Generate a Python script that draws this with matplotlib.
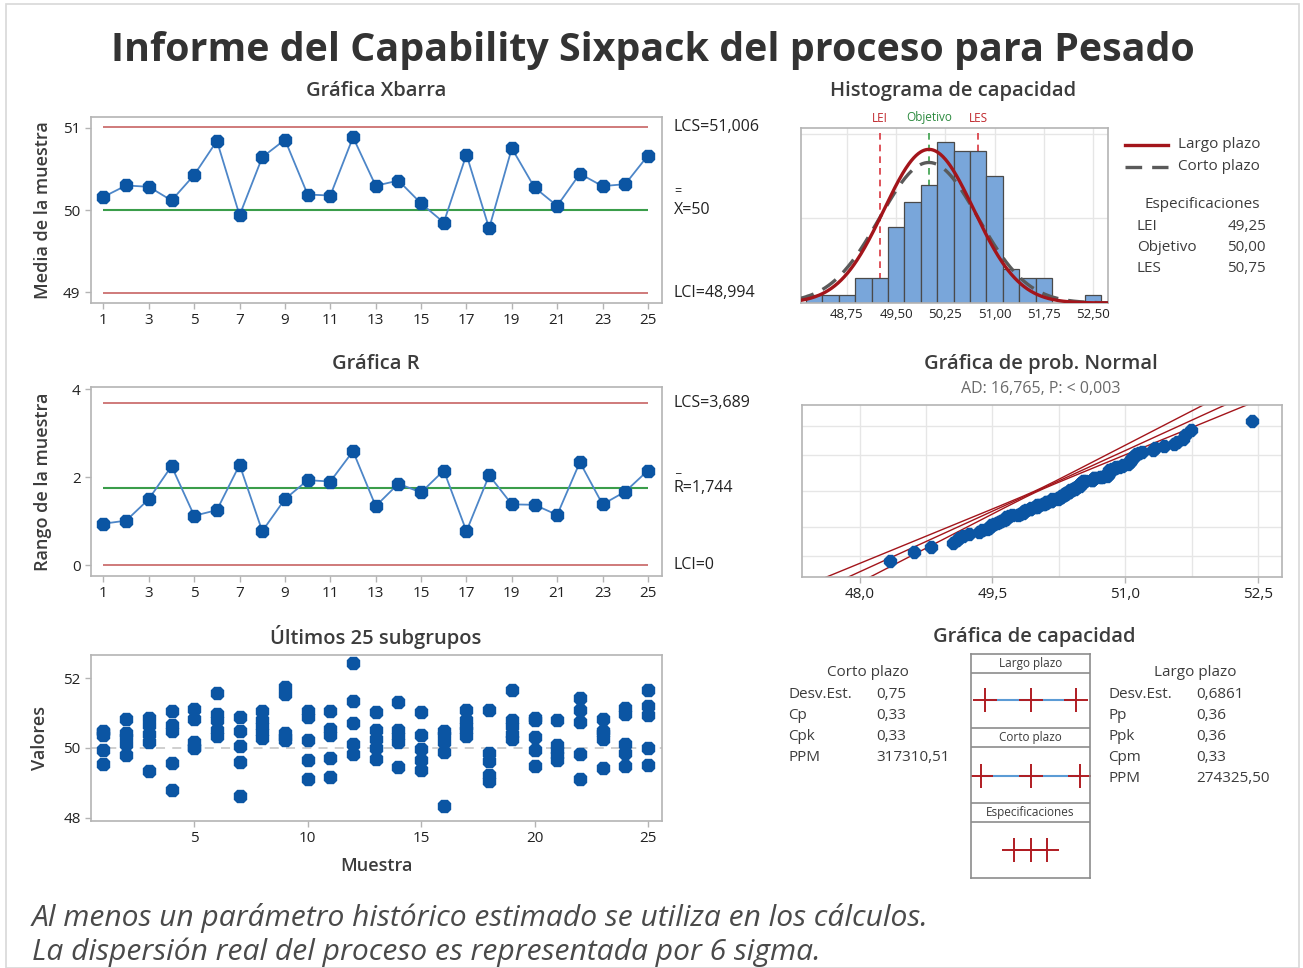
import numpy as np
import matplotlib
matplotlib.use("Agg")
import matplotlib.pyplot as plt
from matplotlib.lines import Line2D
from matplotlib.patches import Rectangle
from statistics import NormalDist

plt.rcParams['font.family'] = ['Open Sans', 'Noto Sans', 'DejaVu Sans']

# pesos de los 25 subgrupos (n = 5)
subgroups = [
    [50.49, 50.46, 50.37, 49.93, 49.55],
    [50.82, 50.43, 50.31, 50.12, 49.81],
    [50.85, 50.65, 50.40, 50.16, 49.35],
    [51.06, 50.65, 50.49, 49.57, 48.81],
    [51.12, 50.82, 50.16, 50.03, 50.00],
    [51.58, 50.96, 50.81, 50.52, 50.33],
    [50.90, 50.49, 50.07, 49.60, 48.62],
    [51.05, 50.80, 50.63, 50.45, 50.28],
    [51.74, 51.55, 50.43, 50.31, 50.24],
    [51.05, 50.88, 50.24, 49.65, 49.12],
    [51.07, 50.54, 50.38, 49.72, 49.17],
    [52.43, 51.34, 50.71, 50.10, 49.84],
    [51.03, 50.50, 50.25, 50.00, 49.69],
    [51.31, 50.52, 50.33, 50.17, 49.46],
    [51.03, 50.36, 49.98, 49.65, 49.38],
    [50.49, 50.36, 50.17, 49.88, 48.34],
    [51.10, 50.80, 50.64, 50.50, 50.33],
    [51.10, 49.86, 49.63, 49.24, 49.06],
    [51.65, 50.79, 50.63, 50.41, 50.27],
    [50.85, 50.80, 50.31, 49.93, 49.48],
    [50.79, 50.08, 49.94, 49.79, 49.65],
    [51.44, 51.08, 50.74, 49.84, 49.10],
    [50.82, 50.49, 50.43, 50.27, 49.44],
    [51.15, 50.98, 50.10, 49.86, 49.48],
    [51.67, 51.19, 50.93, 50.00, 49.52],
]

# parametros historicos y limites
mu = 50.0
sd_within = 0.75
sd_overall = 0.6861
lei, target, les = 49.25, 50.00, 50.75
xbar_lcs, xbar_cl, xbar_lci = 51.006, 50.0, 48.994
r_lcs, r_cl, r_lci = 3.689, 1.744, 0.0

# (texto, simbolo sobre la primera letra)
xbar_labels = [('LCS=51,006', ''), ('X=50', '='), ('LCI=48,994', '')]
r_labels = [('LCS=3,689', ''), ('R=1,744', '_'), ('LCI=0', '')]

short_term = [('Desv.Est.', '0,75'), ('Cp', '0,33'), ('Cpk', '0,33'), ('PPM', '317310,51')]
long_term = [('Desv.Est.', '0,6861'), ('Pp', '0,36'), ('Ppk', '0,36'), ('Cpm', '0,33'), ('PPM', '274325,50')]
spec_rows = [('LEI', '49,25'), ('Objetivo', '50,00'), ('LES', '50,75')]
ad_text = 'AD: 16,765, P: < 0,003'

hist_edges = np.arange(48.125, 52.75, 0.25)
prob_pct = [1, 10, 50, 90, 99]

data = np.array(subgroups)
samples = np.arange(1, len(subgroups) + 1)
xbar = data.mean(axis=1)
ranges = data.max(axis=1) - data.min(axis=1)
values = data.ravel()

W, H = 1303, 968
BLUE = '#0b55a3'
LINE_BLUE = '#4d86c8'
LIM_RED = '#cc7070'
GREEN = '#3a9d4a'
DARK_RED = '#a3151b'
SPINE = '#b4b4b4'
TXT = '#3c3c3c'

fig = plt.figure(figsize=(W / 100, H / 100), dpi=100)


def box(l, t, r, b):
    return [l / W, 1 - b / H, (r - l) / W, (b - t) / H]


def ftext(x, y, s, **kw):
    kw.setdefault('color', TXT)
    fig.text(x / W, 1 - y / H, s, **kw)


def style(ax, size=11):
    for s in ax.spines.values():
        s.set_color(SPINE)
        s.set_linewidth(1.2)
    ax.tick_params(colors=SPINE, labelcolor='#222222', labelsize=size, length=4, width=1)


def limit_labels(ax, vals, labels):
    for val, (lab, accent) in zip(vals, labels):
        ax.text(1.021, val, lab, transform=ax.get_yaxis_transform(), fontsize=11.5,
                va='center', ha='left', color='#222222')
        if accent:
            ax.annotate(accent, (1.021, val), xycoords=ax.get_yaxis_transform(),
                        xytext=(0.5, 13.5 if accent == '=' else 14), textcoords='offset points',
                        fontsize=9, va='center', ha='left', color='#222222')


fig.patches.append(Rectangle((6 / W, 0), 1293 / W, 1 - 4 / H, transform=fig.transFigure,
                             fill=False, edgecolor='#d8d8d8', lw=1.2))

ftext(653, 50, 'Informe del Capability Sixpack del proceso para Pesado',
      ha='center', va='center', fontsize=28.4, weight='bold', color='#333333')

# --- Grafica Xbarra
ax1 = fig.add_axes(box(91, 117, 662, 303))
style(ax1)
ax1.hlines([xbar_lcs, xbar_lci], 1, 25, color=LIM_RED, lw=1.3)
ax1.hlines(xbar_cl, 1, 25, color=GREEN, lw=1.5)
ax1.plot(samples, xbar, color=LINE_BLUE, lw=1.3, marker='8', ms=9.5, mfc=BLUE, mec=BLUE)
ax1.set_xlim(0.45, 25.62)
ax1.set_ylim(48.87, 51.13)
ax1.set_xticks(range(1, 26, 2))
ax1.set_yticks([49, 50, 51])
ax1.set_ylabel('Media de la muestra', fontsize=13, weight='semibold', color=TXT, labelpad=8)
limit_labels(ax1, [xbar_lcs, xbar_cl, xbar_lci], xbar_labels)
ftext(376, 91, 'Gráfica Xbarra', ha='center', va='center', fontsize=14.5, weight='semibold')

# --- Grafica R
ax2 = fig.add_axes(box(91, 387, 662, 576))
style(ax2)
ax2.hlines([r_lcs, r_lci], 1, 25, color=LIM_RED, lw=1.3)
ax2.hlines(r_cl, 1, 25, color=GREEN, lw=1.5)
ax2.plot(samples, ranges, color=LINE_BLUE, lw=1.3, marker='8', ms=9.5, mfc=BLUE, mec=BLUE)
ax2.set_xlim(0.45, 25.62)
ax2.set_ylim(-0.25, 4.05)
ax2.set_xticks(range(1, 26, 2))
ax2.set_yticks([0, 2, 4])
ax2.set_ylabel('Rango de la muestra', fontsize=13, weight='semibold', color=TXT, labelpad=14)
limit_labels(ax2, [r_lcs, r_cl, r_lci], r_labels)
ftext(376, 364, 'Gráfica R', ha='center', va='center', fontsize=14.5, weight='semibold')

# --- Ultimos 25 subgrupos
ax3 = fig.add_axes(box(91, 655, 662, 821))
style(ax3)
ax3.axhline(mu, color='#cccccc', lw=1.3, ls=(0, (5, 4)))
ax3.plot(np.repeat(samples, data.shape[1]), values, ls='none', marker='8', ms=9.5,
         mfc=BLUE, mec=BLUE)
ax3.set_xlim(0.45, 25.62)
ax3.set_ylim(47.91, 52.66)
ax3.set_xticks([5, 10, 15, 20, 25])
ax3.set_yticks([48, 50, 52])
ax3.set_ylabel('Valores', fontsize=13, weight='semibold', color=TXT, labelpad=10)
ftext(376, 866, 'Muestra', ha='center', va='center', fontsize=13, weight='semibold')
ftext(376, 637, 'Últimos 25 subgrupos', ha='center', va='center', fontsize=14.5, weight='semibold')

# --- Histograma de capacidad
ax4 = fig.add_axes(box(801, 128, 1108, 303))
style(ax4, 9.5)
ax4.set_axisbelow(True)
ax4.grid(True, color='#e6e6e6', lw=1)
for val, c in [(lei, '#d9363e'), (target, '#3aa04a'), (les, '#d9363e')]:
    ax4.axvline(val, color=c, lw=1.2, ls=(0, (4, 3)), zorder=1)
ax4.hist(values, bins=hist_edges, color='#79a6da', edgecolor='#4a4a4a', lw=0.9, zorder=2)
xs = np.linspace(48.0, 52.8, 400)
scale = len(values) * 0.25
for sd, kw in [(sd_within, dict(color='#5a5a5a', ls=(0, (5, 3)), lw=2.4)),
               (sd_overall, dict(color=DARK_RED, lw=2.4))]:
    ax4.plot(xs, scale / (sd * np.sqrt(2 * np.pi)) * np.exp(-0.5 * ((xs - mu) / sd) ** 2),
             zorder=3, **kw)
ax4.set_xlim(48.05, 52.73)
ax4.set_ylim(0, 20.7)
ax4.set_yticks([10, 20])
ax4.tick_params(axis='y', length=0, labelleft=False)
ax4.tick_params(axis='x', length=0)
ticks4 = [48.75, 49.5, 50.25, 51.0, 51.75, 52.5]
ax4.set_xticks(ticks4)
ax4.set_xticklabels([f'{t:.2f}'.replace('.', ',') for t in ticks4])
for val, lab, c in [(lei, 'LEI', '#c0282d'), (target, 'Objetivo', '#2b8a3e'), (les, 'LES', '#c0282d')]:
    ax4.text(val, 1.02, lab, transform=ax4.get_xaxis_transform(), ha='center', va='bottom',
             fontsize=8.5, color=c)
ftext(953, 91, 'Histograma de capacidad', ha='center', va='center', fontsize=14.5, weight='semibold')

fig.lines.append(Line2D([1125 / W, 1168 / W], [1 - 145 / H] * 2, transform=fig.transFigure,
                        color=DARK_RED, lw=2.4))
fig.lines.append(Line2D([1125 / W, 1168 / W], [1 - 167 / H] * 2, transform=fig.transFigure,
                        color='#5a5a5a', lw=2.4, ls=(0, (5, 3))))
ftext(1178, 145, 'Largo plazo', va='center', fontsize=11)
ftext(1178, 167, 'Corto plazo', va='center', fontsize=11)
ftext(1144, 205, 'Especificaciones', va='center', fontsize=11)
for i, (name, val) in enumerate(spec_rows):
    ftext(1137, 227 + 20.5 * i, name, va='center', fontsize=11)
    ftext(1266, 227 + 20.5 * i, val, va='center', ha='right', fontsize=11)

# --- Grafica de prob. Normal
ax5 = fig.add_axes(box(802, 405, 1282, 577))
style(ax5)
ax5.set_axisbelow(True)
n = len(values)
z = np.array([NormalDist().inv_cdf((i - 0.3) / (n + 0.4)) for i in range(1, n + 1)])
zz = np.linspace(-3.5, 3.5, 200)
center = mu + sd_overall * zz
half = np.sqrt(0.02 ** 2 + (0.079 * zz) ** 2)
for off in (-half, 0 * zz, half):
    ax5.plot(center + off, zz, color=DARK_RED, lw=1.0)
ax5.plot(np.sort(values), z, ls='none', marker='8', ms=9, mfc=BLUE, mec=BLUE)
ax5.set_xlim(47.35, 52.77)
ax5.set_ylim(-3.1, 3.1)
ax5.set_xticks([48.0, 49.5, 51.0, 52.5])
ax5.set_xticklabels(['48,0', '49,5', '51,0', '52,5'])
ax5.set_xticks(np.arange(48.0, 52.6, 0.75), minor=True)
ax5.set_yticks([NormalDist().inv_cdf(p / 100) for p in prob_pct])
ax5.tick_params(axis='y', length=0, labelleft=False)
ax5.tick_params(axis='x', which='minor', length=0)
ax5.grid(True, which='both', color='#e6e6e6', lw=1)
ftext(1041, 364, 'Gráfica de prob. Normal', ha='center', va='center', fontsize=14.5, weight='semibold')
ftext(1041, 389, ad_text, ha='center', va='center', fontsize=11.5, color='#6a6a6a')

# --- Grafica de capacidad
ftext(1034, 637, 'Gráfica de capacidad', ha='center', va='center', fontsize=14.5, weight='semibold')
ftext(868, 673, 'Corto plazo', ha='center', va='center', fontsize=11)
for i, (name, val) in enumerate(short_term):
    ftext(788, 695 + 20.8 * i, name, va='center', fontsize=11)
    ftext(876, 695 + 20.8 * i, val, va='center', fontsize=11)
ftext(1195, 673, 'Largo plazo', ha='center', va='center', fontsize=11)
for i, (name, val) in enumerate(long_term):
    ftext(1108, 695 + 20.8 * i, name, va='center', fontsize=11)
    ftext(1196, 695 + 20.8 * i, val, va='center', fontsize=11)

ax6 = fig.add_axes(box(971, 654, 1090, 878))
for s in ax6.spines.values():
    s.set_color('#8c8c8c')
    s.set_linewidth(1.2)
ax6.set_xticks([])
ax6.set_yticks([])
ax6.set_xlim(47.32, 52.68)
ax6.set_ylim(224, 0)
for y in (19, 74, 93, 149, 168):
    ax6.axhline(y, color='#8c8c8c', lw=1.2)
sections = [('Largo plazo', sd_overall, 9.5, 46), ('Corto plazo', sd_within, 83.5, 121.5)]
for name, sd, yh, yl in sections:
    ax6.text(mu, yh, name, ha='center', va='center', fontsize=8.5, color=TXT)
    pts = [mu - 3 * sd, mu, mu + 3 * sd]
    ax6.plot([pts[0], pts[-1]], [yl, yl], color='#5b9bd5', lw=1.5)
    ax6.plot(pts, [yl] * 3, ls='none', marker='+', ms=17, mew=1.4, color='#b01c22')
ax6.text(mu, 158.5, 'Especificaciones', ha='center', va='center', fontsize=8.5, color=TXT)
ax6.plot([lei, target, les], [196] * 3, color='#b01c22', lw=1.4, marker='+', ms=17, mew=1.4)

# notas al pie
ftext(32, 918, 'Al menos un parámetro histórico estimado se utiliza en los cálculos.',
      va='center', fontsize=21.6, style='italic', color='#4a4a4a')
ftext(32, 952, 'La dispersión real del proceso es representada por 6 sigma.',
      va='center', fontsize=21.6, style='italic', color='#4a4a4a')

fig.savefig('out.png', dpi=100)
